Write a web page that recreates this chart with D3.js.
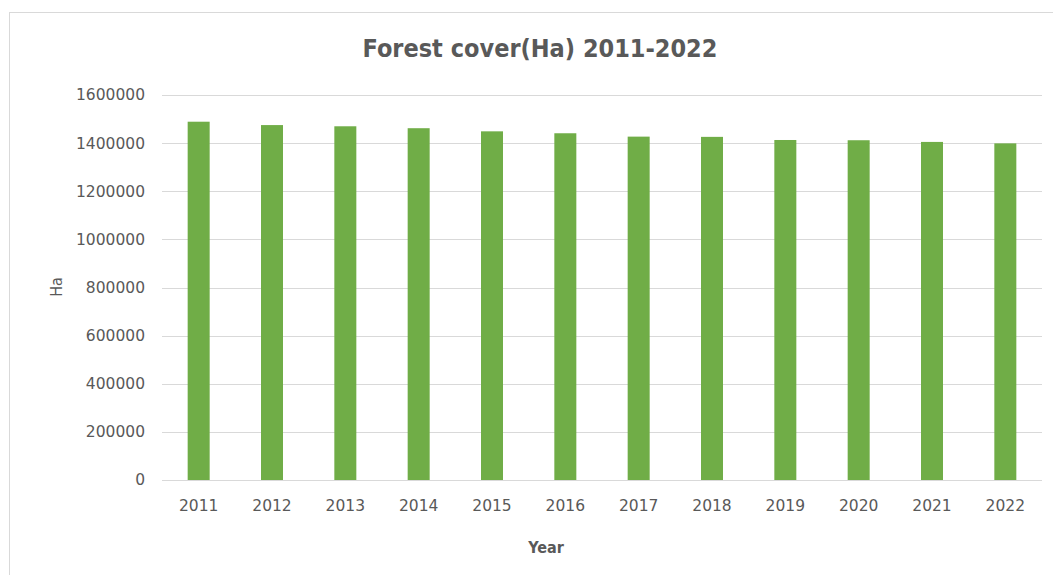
<!DOCTYPE html>
<html>
<head>
<meta charset="utf-8">
<script src="https://cdn.jsdelivr.net/npm/d3@7"></script>
<style>
  body { margin: 0; background: #fff; }
  svg text { font-family: "Liberation Sans Narrow", "DejaVu Sans Condensed", "Open Sans", sans-serif; fill: #595959; }
  svg text.tick { font-family: "DejaVu Sans", sans-serif; }
</style>
</head>
<body>
<div id="chart"></div>
<script>
var years = ["2011", "2012", "2013", "2014", "2015", "2016", "2017", "2018", "2019", "2020", "2021", "2022"];
var forestHa = [1489000, 1475000, 1470000, 1462000, 1449000, 1441000, 1427000, 1426000, 1413000, 1412000, 1405000, 1399000];
var yTicks = [0, 200000, 400000, 600000, 800000, 1000000, 1200000, 1400000, 1600000];

var width = 1053,
    height = 575,
    plotLeft = 162,
    plotRight = 1042,
    plotTop = 95,
    plotBottom = 480;

var svg = d3.select("#chart").append("svg")
    .attr("width", width)
    .attr("height", height);

// chart area border
svg.append("rect")
    .attr("x", 9.5)
    .attr("y", 12.5)
    .attr("width", 1060)
    .attr("height", 600)
    .attr("fill", "#fff")
    .attr("stroke", "#d9d9d9");

var x = d3.scaleBand()
    .domain(years)
    .range([plotLeft, plotRight])
    .paddingInner(0.7)
    .paddingOuter(0.35);

var y = d3.scaleLinear()
    .domain([0, 1600000])
    .range([plotBottom, plotTop]);

// gridlines
svg.append("g")
    .selectAll("line")
    .data(yTicks)
    .join("line")
    .attr("x1", plotLeft)
    .attr("x2", plotRight)
    .attr("y1", function(d) { return Math.round(y(d)) + 0.5; })
    .attr("y2", function(d) { return Math.round(y(d)) + 0.5; })
    .attr("stroke", "#d9d9d9")
    .attr("stroke-width", 1);

// y tick labels
svg.append("g")
    .selectAll("text")
    .data(yTicks)
    .join("text")
    .attr("class", "tick")
    .attr("x", 145)
    .attr("y", function(d) { return y(d); })
    .attr("dy", "0.35em")
    .attr("text-anchor", "end")
    .style("font-size", "15.5px")
    .text(function(d) { return d; });

// bars
svg.append("g")
    .selectAll("rect")
    .data(forestHa)
    .join("rect")
    .attr("x", function(d, i) { return x(years[i]); })
    .attr("y", function(d) { return y(d); })
    .attr("width", x.bandwidth())
    .attr("height", function(d) { return y(0) - y(d); })
    .attr("fill", "#70ad47");

// x tick labels
svg.append("g")
    .selectAll("text")
    .data(years)
    .join("text")
    .attr("class", "tick")
    .attr("x", function(d) { return x(d) + x.bandwidth() / 2; })
    .attr("y", 511)
    .attr("text-anchor", "middle")
    .style("font-size", "15.5px")
    .text(function(d) { return d; });

// title
svg.append("text")
    .attr("x", 540)
    .attr("y", 57)
    .attr("text-anchor", "middle")
    .style("font-size", "25px")
    .style("font-weight", "bold")
    .text("Forest cover(Ha) 2011-2022");

// axis titles
svg.append("text")
    .attr("x", 546)
    .attr("y", 553)
    .attr("text-anchor", "middle")
    .style("font-size", "16px")
    .style("font-weight", "bold")
    .text("Year");

svg.append("text")
    .attr("transform", "translate(62,287) rotate(-90)")
    .attr("text-anchor", "middle")
    .style("font-size", "16px")
    .text("Ha");
</script>
</body>
</html>
